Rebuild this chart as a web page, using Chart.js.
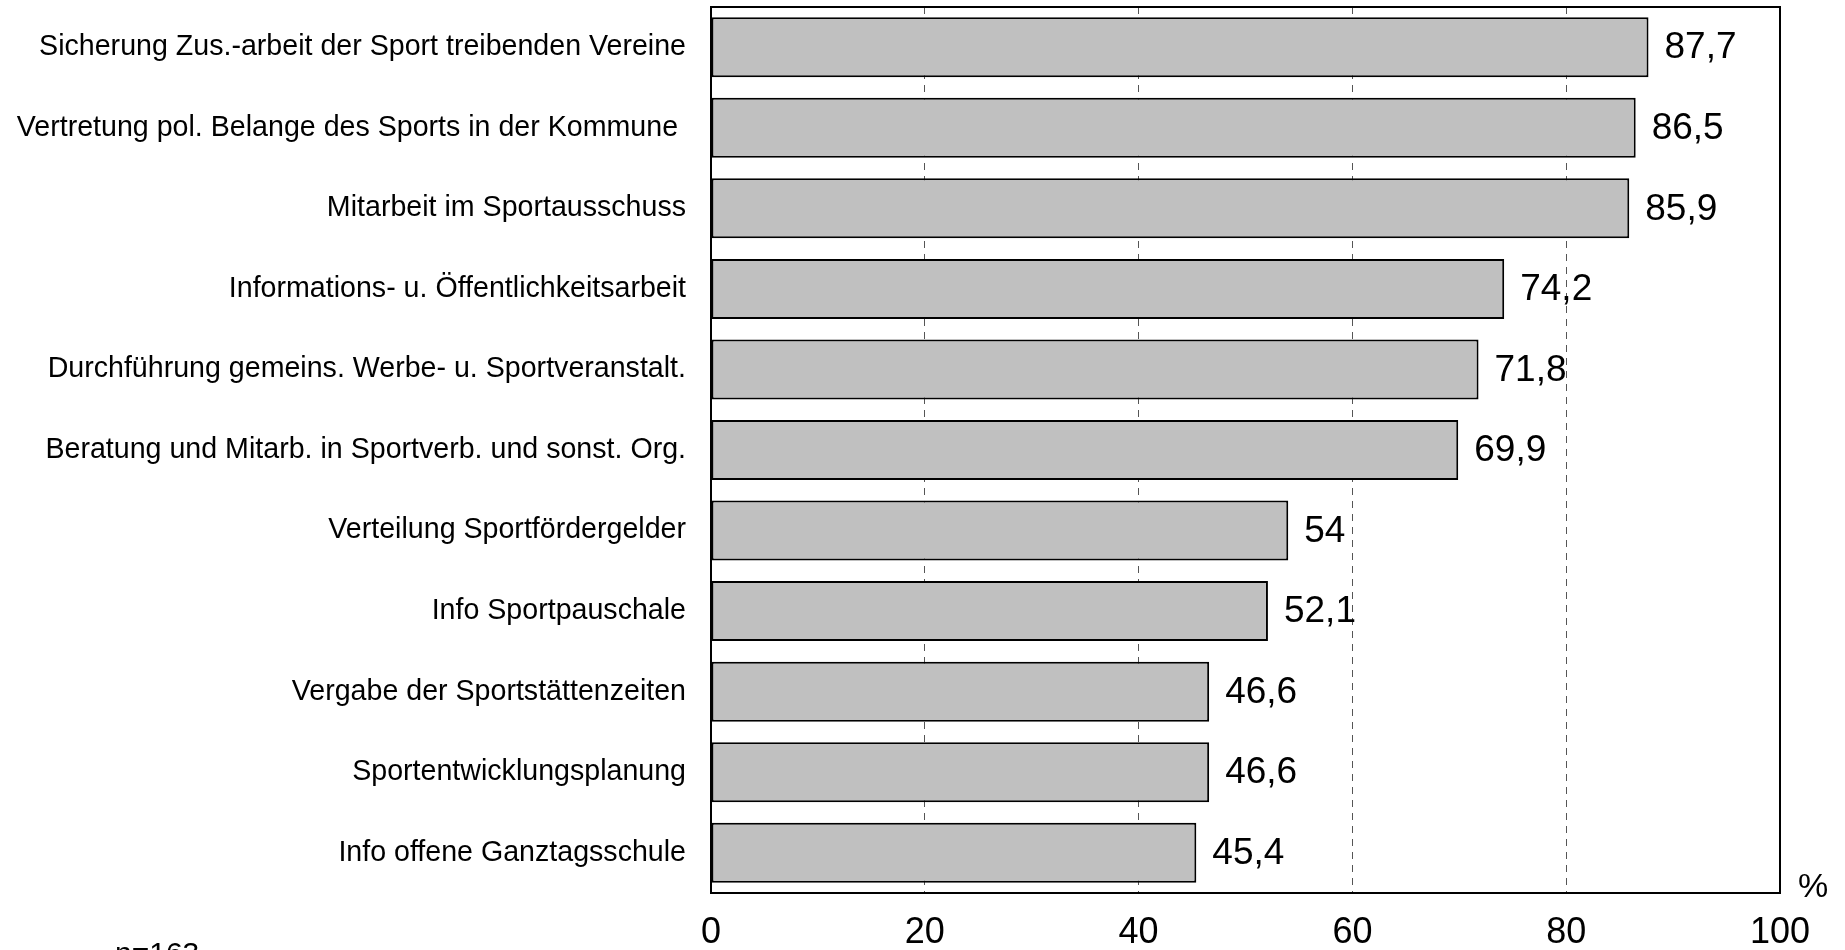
<!DOCTYPE html>
<html>
<head>
<meta charset="utf-8">
<script src="https://cdn.jsdelivr.net/npm/chart.js@4"></script>
<style>
  html, body { margin: 0; padding: 0; background: #fff; }
  #wrap { width: 1845px; height: 950px; position: relative; }
</style>
</head>
<body>
<div id="wrap"><canvas id="chart"></canvas></div>
<script>
const categories = [
  'Sicherung Zus.-arbeit der Sport treibenden Vereine',
  'Vertretung pol. Belange des Sports in der Kommune ',
  'Mitarbeit im Sportausschuss',
  'Informations- u. Öffentlichkeitsarbeit',
  'Durchführung gemeins. Werbe- u. Sportveranstalt.',
  'Beratung und Mitarb. in Sportverb. und sonst. Org.',
  'Verteilung Sportfördergelder',
  'Info Sportpauschale',
  'Vergabe der Sportstättenzeiten',
  'Sportentwicklungsplanung',
  'Info offene Ganztagsschule'
];
const shares = [87.7, 86.5, 85.9, 74.2, 71.8, 69.9, 54, 52.1, 46.6, 46.6, 45.4];
const xTicks = [0, 20, 40, 60, 80, 100];
const unitLabel = '%';
const sampleNote = 'n=163';

const FONT = "'Liberation Sans', Arial, sans-serif";

// value labels, frame and the small texts
const extras = {
  id: 'extras',
  afterDatasetsDraw(chart) {
    const ctx = chart.ctx;
    const meta = chart.getDatasetMeta(0);
    ctx.save();
    ctx.fillStyle = '#000';
    ctx.font = '37px ' + FONT;
    ctx.textAlign = 'left';
    ctx.textBaseline = 'middle';
    meta.data.forEach((bar, i) => {
      const txt = String(shares[i]).replace('.', ',');
      ctx.fillText(txt, bar.x + 16, bar.y + 1);
    });
    ctx.restore();
  },
  afterDraw(chart) {
    const ctx = chart.ctx;
    const a = chart.chartArea;
    ctx.save();
    ctx.strokeStyle = '#000';
    ctx.lineWidth = 2;
    ctx.strokeRect(a.left, a.top, a.right - a.left, a.bottom - a.top);

    ctx.fillStyle = '#000';
    ctx.font = '34px ' + FONT;
    ctx.textAlign = 'center';
    ctx.textBaseline = 'middle';
    ctx.fillText(unitLabel, a.right + 33, a.bottom - 5);

    ctx.font = '30px ' + FONT;
    ctx.textAlign = 'left';
    ctx.textBaseline = 'alphabetic';
    ctx.fillText(sampleNote, 115, 963);
    ctx.restore();
  }
};

new Chart(document.getElementById('chart'), {
  type: 'bar',
  data: {
    labels: categories,
    datasets: [{
      data: shares,
      backgroundColor: '#c0c0c0',
      borderColor: '#000',
      borderWidth: 2,
      borderSkipped: false,
      categoryPercentage: 1,
      barPercentage: 0.745
    }]
  },
  options: {
    indexAxis: 'y',
    responsive: true,
    maintainAspectRatio: false,
    animation: false,
    layout: { padding: { top: 7, right: 65, left: 0, bottom: 0 } },
    plugins: { legend: { display: false }, tooltip: { enabled: false } },
    scales: {
      x: {
        min: 0,
        max: 100,
        afterBuildTicks: s => { s.ticks = xTicks.map(v => ({ value: v })); },
        afterFit: s => { s.height = 57; s.paddingLeft = 0; s.paddingRight = 0; },
        ticks: {
          color: '#000',
          font: { family: FONT, size: 36 },
          padding: 18,
          maxRotation: 0
        },
        grid: {
          drawTicks: false,
          lineWidth: 1,
          color: c => (c.tick && (c.tick.value === 0 || c.tick.value === 100)) ? 'rgba(0,0,0,0)' : '#555'
        },
        border: { display: false, dash: [7, 6] }
      },
      y: {
        afterFit: s => { s.width = 711; s.paddingTop = 0; s.paddingBottom = 0; },
        ticks: {
          color: '#000',
          font: { family: FONT, size: 28.6 },
          padding: 25,
          autoSkip: false
        },
        grid: { display: false, drawTicks: false },
        border: { display: false }
      }
    }
  },
  plugins: [extras]
});
</script>
</body>
</html>
